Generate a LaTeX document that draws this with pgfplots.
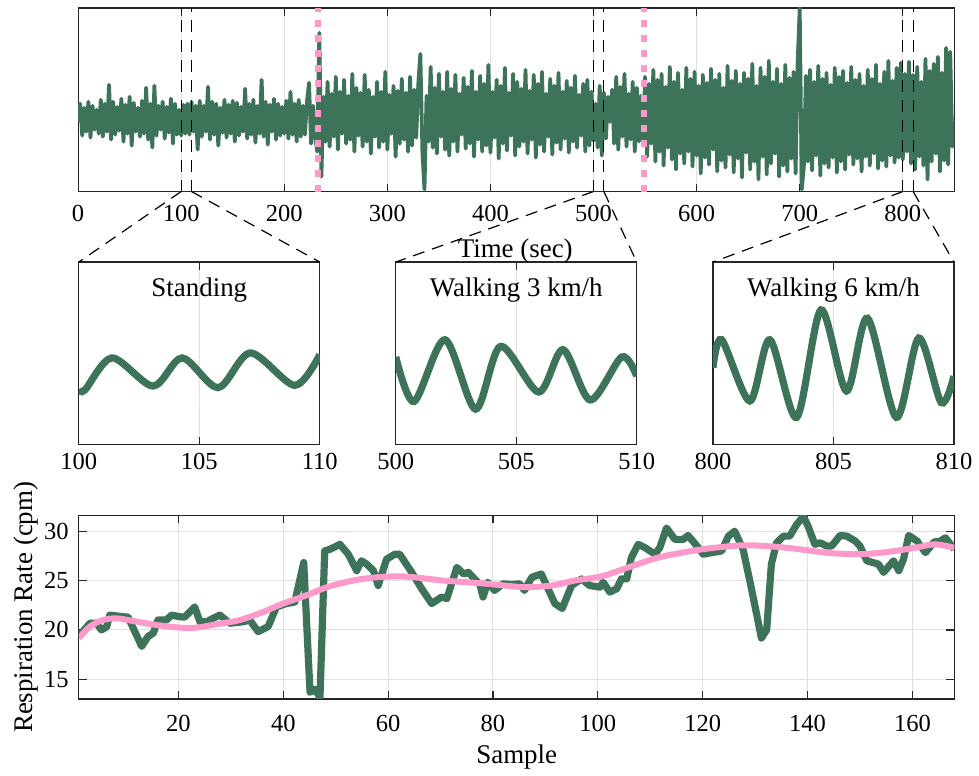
\documentclass[border=0pt]{standalone}
\usepackage{fontspec}
\setmainfont{Liberation Serif}
\usepackage{pgfplots}
\pgfplotsset{compat=1.18}
\definecolor{sig}{RGB}{61,115,88}
\definecolor{rr}{RGB}{255,153,204}

\tikzset{vdash/.style={black, line width=0.6pt, dash pattern=on 6pt off 4pt}}
\pgfplotsset{
  mat/.style={
    scale only axis,
    axis line style={black!85, line width=0.6pt},
    tick style={black!85, line width=0.6pt},
    major tick length=4pt,
    tick align=inside, xtick pos=both, ytick pos=both,
    grid style={black!12, line width=0.5pt},
    tick label style={font=\fontsize{12.3}{14}\selectfont},
    label style={font=\fontsize{13.5}{16}\selectfont},
    /pgf/number format/assume math mode=true,
    /pgf/number format/1000 sep={},
  },
  zoombox/.style={mat, width=120.8pt, height=91.5pt, ymin=0, ymax=184,
    ytick=\empty, xmajorgrids, xticklabel style={yshift=-0.7pt}},
}

\begin{document}
\begin{tikzpicture}
\path (0,0) rectangle (489.5pt,-387pt);

% full recording
\begin{axis}[mat, name=top, at={(39.15pt,-96pt)}, anchor=south west,
  width=439.2pt, height=92pt,
  xmin=0, xmax=850, ymin=0, ymax=184,
  xtick={0,100,...,800}, ytick=\empty, xmajorgrids,
  xticklabel style={yshift=-3.5pt}]
\addplot[sig, line width=1.9pt, line join=round] coordinates {
(0,70)(2,88)(4,56)(6,84)(8,60)(10,90)(12,54)(14,86)(16,62)(18,82)
(20,58)(22,92)(24,55)(26,88)(28,60)(30,107)(32,52)(34,90)(36,57)(38,85)
(40,61)(42,93)(44,50)(46,87)(48,58)(50,95)(52,46)(54,89)(56,60)(58,84)
(60,55)(62,91)(64,58)(66,104)(68,52)(70,88)(72,44)(74,106)(76,56)(78,86)
(80,62)(82,90)(84,53)(86,85)(88,59)(90,93)(92,48)(94,88)(96,57)(98,82)
(100,56)(102,87)(104,58)(106,88)(108,57)(110,90)(112,60)(114,86)(116,42)(118,91)
(120,55)(122,86)(124,60)(126,105)(128,52)(130,90)(132,57)(134,88)(136,46)(138,84)
(140,59)(142,92)(144,54)(146,87)(148,58)(150,91)(152,50)(154,89)(156,56)(158,85)
(160,60)(162,103)(164,53)(166,88)(168,57)(170,92)(172,49)(174,86)(176,58)(178,112)
(180,55)(182,90)(184,47)(186,87)(188,60)(190,93)(192,52)(194,88)(196,56)(198,85)
(200,58)(202,91)(204,53)(206,100)(208,57)(210,88)(212,50)(214,92)(216,55)(218,86)
(220,57)(222,90)(224,109)(226,48)(228,86)(230,55)(232,40)(234,159)(236,15)
(238,95)(240,50)(242,110)(244,45)(246,98)(248,55)(250,115)(252,42)(254,100)(256,58)
(258,112)(260,48)(262,96)(264,52)(266,118)(268,40)(270,104)(272,56)(274,99)(276,45)
(278,117)(280,50)(282,102)(284,38)(286,95)(288,55)(290,110)(292,44)(294,100)(296,50)
(298,120)(300,42)(302,97)(304,58)(306,106)(308,35)(310,101)(312,48)(314,113)(316,52)
(318,99)(320,40)(322,115)(324,46)(326,102)(328,54)(330,108)(332,138)(334,40)(336,2)
(338,96)(340,50)(342,125)(344,44)(346,104)(348,38)(350,118)(352,55)(354,100)(356,42)
(358,120)(360,36)(362,103)(364,50)(366,117)(368,40)(370,98)(372,57)(374,114)(376,43)
(378,105)(380,48)(382,121)(384,35)(386,100)(388,52)(390,116)(392,40)(394,108)(396,46)
(398,127)(400,39)(402,100)(404,54)(406,112)(408,33)(410,106)(412,48)(414,124)(416,41)
(418,99)(420,56)(422,118)(424,36)(426,110)(428,45)(430,103)(432,50)(434,122)(436,38)
(438,101)(440,52)(442,117)(444,34)(446,108)(448,47)(450,120)(452,40)(454,98)(456,55)
(458,113)(460,37)(462,106)(464,49)(466,119)(468,42)(470,100)(472,53)(474,111)(476,39)
(478,104)(480,50)(482,116)(484,44)(486,97)(488,56)(490,108)(492,40)(494,112)(496,46)
(498,100)(500,51)(502,88)(504,44)(506,106)(508,36)(510,99)(512,53)(514,95)(516,70)
(518,102)(520,48)(522,115)(524,42)(526,105)(528,55)(530,118)(532,45)(534,98)(536,52)
(538,110)(540,40)(542,104)(544,50)(546,96)(548,48)
(550,115)(552,35)(554,108)(556,48)(558,122)(560,30)(562,112)(564,40)(566,118)(568,26)
(570,105)(572,44)(574,125)(576,32)(578,110)(580,22)(582,119)(584,38)(586,102)(588,28)
(590,124)(592,40)(594,113)(596,25)(598,120)(600,36)(602,106)(604,18)(606,117)(608,34)
(610,109)(612,27)(614,123)(616,42)(618,112)(620,20)(622,118)(624,31)(626,104)(628,24)
(630,126)(632,37)(634,111)(636,19)(638,121)(640,33)(642,108)(644,14)(646,119)(648,39)
(650,113)(652,22)(654,128)(656,30)(658,106)(660,12)(662,124)(664,35)(666,115)(668,17)
(670,131)(672,28)(674,110)(676,38)(678,123)(680,15)(682,108)(684,26)(686,127)(688,20)
(690,114)(692,33)(694,120)(696,18)(698,129)(700,184)(702,2)(704,25)(706,116)(708,30)
(710,122)(712,21)(714,110)(716,36)(718,126)(720,16)(722,113)(724,28)(726,119)(728,24)
(730,107)(732,34)(734,124)(736,19)(738,115)(740,30)(742,121)(744,22)(746,109)(748,37)
(750,125)(752,27)(754,112)(756,33)(758,118)(760,20)(762,106)(764,35)(766,122)(768,26)
(770,113)(772,38)(774,127)(776,23)(778,108)(780,31)(782,120)(784,25)(786,131)(788,36)
(790,111)(792,29)(794,124)(796,34)(798,129)(800,32)(802,118)(804,40)(806,130)(808,28)
(810,117)(812,22)(814,125)(816,35)(818,110)(820,26)(822,133)(824,12)(826,121)(828,30)
(830,128)(832,38)(834,135)(836,20)(838,119)(840,31)(842,144)(844,27)(846,140)(848,45)(850,70)
};
% activity changes
\addplot[rr, line width=3pt, dash pattern=on 3.3pt off 4.2pt] coordinates {(233,0)(233,184)};
\addplot[rr, line width=3pt, dash pattern=on 3.3pt off 4.2pt] coordinates {(549,0)(549,184)};
% zoom windows
\addplot[vdash] coordinates {(100,0)(100,184)};
\addplot[vdash] coordinates {(110,0)(110,184)};
\addplot[vdash] coordinates {(500,0)(500,184)};
\addplot[vdash] coordinates {(510,0)(510,184)};
\addplot[vdash] coordinates {(800,0)(800,184)};
\addplot[vdash] coordinates {(810,0)(810,184)};
\coordinate (a1) at (axis cs:100,0);
\coordinate (b1) at (axis cs:110,0);
\coordinate (a2) at (axis cs:500,0);
\coordinate (b2) at (axis cs:510,0);
\coordinate (a3) at (axis cs:800,0);
\coordinate (b3) at (axis cs:810,0);
\end{axis}

% standing
\begin{axis}[zoombox, name=p1, at={(39.5pt,-222.85pt)}, anchor=south west,
  xmin=100, xmax=110, xtick={100,105,110}]
\addplot[sig, line width=3.6pt, smooth] coordinates {
(100,56)(100.25,55)(101.38,87.4)(103.08,59)(104.29,87.4)(105.78,57.4)(107.12,92.4)(108.96,59.7)(110,90.7)};
\node[anchor=base, font=\fontsize{13.5}{16}\selectfont] at (rel axis cs:0.5,1) [yshift=-17.5pt] {Standing};
\end{axis}

% walking 3 km/h
\begin{axis}[zoombox, name=p2, at={(198.35pt,-222.85pt)}, anchor=south west,
  xmin=500, xmax=510, xtick={500,505,510}]
\addplot[sig, line width=3.6pt, smooth] coordinates {
(500,88.4)(500.76,43.4)(502.04,105.7)(503.31,35.7)(504.35,99)(505.93,53)(506.94,95.7)(508.07,45)(509.38,88.4)(510,69)};
\node[anchor=base, font=\fontsize{13.5}{16}\selectfont] at (rel axis cs:0.5,1) [yshift=-17.5pt] {Walking 3 km/h};
\end{axis}

% walking 6 km/h
\begin{axis}[zoombox, name=p3, at={(357.35pt,-222.85pt)}, anchor=south west,
  xmin=800, xmax=810, xtick={800,805,810}]
\addplot[sig, line width=3.6pt, smooth] coordinates {
(800,77.4)(800.36,105.7)(801.53,44)(802.36,105.7)(803.47,27.4)(804.48,135.7)(805.54,54)(806.41,127.4)(807.61,27.4)(808.54,107.4)(809.47,42.4)(810,69)};
\node[anchor=base, font=\fontsize{13.5}{16}\selectfont] at (rel axis cs:0.5,1) [yshift=-17.5pt] {Walking 6 km/h};
\end{axis}

\draw[vdash] (a1) -- (p1.north west);
\draw[vdash] (b1) -- (p1.north east);
\draw[vdash] (a2) -- (p2.north west);
\draw[vdash] (b2) -- (p2.north east);
\draw[vdash] (a3) -- (p3.north west);
\draw[vdash] (b3) -- (p3.north east);
\node[anchor=base, font=\fontsize{13.5}{16}\selectfont] at (258.25pt,-129pt) {Time (sec)};

% respiration rate
\begin{axis}[mat, name=bot, at={(39.5pt,-350.35pt)}, anchor=south west,
  width=438.85pt, height=92pt,
  xmin=1, xmax=168, ymin=13, ymax=31.6,
  xtick={20,40,...,160}, ytick={15,20,25,30}, grid=major,
  xticklabel style={yshift=-4.6pt}, yticklabel style={xshift=-1.5pt}]
\addplot[sig, line width=3.6pt, line join=round] coordinates {
(1,19.33)(3.1,20.67)(4.4,20.67)(5.3,20)(6.3,20.3)(6.9,21.5)(9.5,21.33)(10.4,21.3)(13,18.33)(14.2,19.33)
(15.2,19.67)(16.1,21)(17.7,21)(18.7,21.5)(20.3,21.33)(21.2,21.3)(23.1,22.33)(24.1,20.83)(25.4,20.83)(26.6,21.17)
(27.9,21.5)(29.8,20.67)(32.4,20.83)(33.6,21)(35.2,19.83)(37.1,20.33)(38.7,22.33)(40.6,22.67)(42.2,22.83)(43.9,26.83)
(45.1,13.67)(46,14)(47,13.17)(47.9,28)(48.9,28.17)(50.8,28.67)(52.4,27.67)(54,26)(54.9,27)(55.9,26.67)
(57.2,26)(58.1,24.5)(59.7,27.17)(61.3,27.67)(62.2,27.67)(64.5,25.83)(66.4,24.17)(68.3,22.67)(70.2,23.33)(71.2,23.17)
(73.1,26.33)(74.4,25.67)(75.3,25.83)(77.5,24.6)(78.1,23.33)(79,24.83)(80.3,24)(81.9,24.67)(83.5,24.6)(85.1,24.67)
(86,24)(87.4,25.33)(89.2,25.67)(91.8,22.67)(93.2,22.17)(95,24.5)(96.9,25.17)(98.4,24.5)(100.4,24.33)(101,24.83)
(102.3,23.83)(103.6,24.17)(104.5,25.17)(105.5,25.17)(106.4,27.33)(107.7,28.67)(109,28.33)(110.9,27.67)(111.8,28.33)(113.1,30.33)
(114.7,29.17)(116.3,29.17)(117.2,29.57)(118.9,28.5)(120.1,27.67)(121.7,27.83)(123.6,28)(124.9,29.5)(126.1,30)(127.7,28.17)
(129.3,24.17)(131.2,19.17)(132.2,20)(133.1,26.67)(134.1,28.83)(135.4,29.5)(136.6,29.5)(137.9,30.67)(139.2,31.5)(140.1,30.5)
(141.4,28.67)(142.4,28.83)(143.6,28.5)(144.6,28.5)(146.2,29.57)(147.5,29.5)(149.1,29)(150,28.5)(151.3,27)(153.5,26.67)
(154.5,25.83)(156.4,27)(157.4,26)(158.3,27.17)(159.3,29.57)(160.9,29)(162.5,27.83)(164.1,28.9)(165.3,29)(166.3,29.33)(168,28.17)
};
\addplot[rr, line width=3pt, smooth] coordinates {
(1,19.17)(3.1,20.33)(5.6,21)(8.2,21.17)(11.4,20.9)(15.8,20.5)(20.3,20.23)(23.4,20.23)(27.3,20.57)(31.7,21)
(36.2,21.83)(40,22.67)(44.4,23.5)(48.9,24.43)(54,25.07)(57.8,25.33)(62.2,25.43)(66.1,25.27)(70.5,25)(75,24.83)
(79,24.67)(86,24.33)(91.2,24.5)(95.6,25)(100.7,25.43)(105.8,26.33)(111.5,27.33)(117.9,28)(122.4,28.33)(127.4,28.57)
(131.9,28.5)(137,28.27)(143.4,27.83)(148.4,27.67)(152.2,27.73)(156.7,28)(160.5,28.33)(164.3,28.67)(168,28.33)
};
\end{axis}
\node[anchor=base, font=\fontsize{13.5}{16}\selectfont] at (259pt,-382.5pt) {Sample};
\node[anchor=base, rotate=90, font=\fontsize{13.5}{16}\selectfont] at (16.2pt,-304.4pt) {Respiration Rate (cpm)};
\end{tikzpicture}
\end{document}
